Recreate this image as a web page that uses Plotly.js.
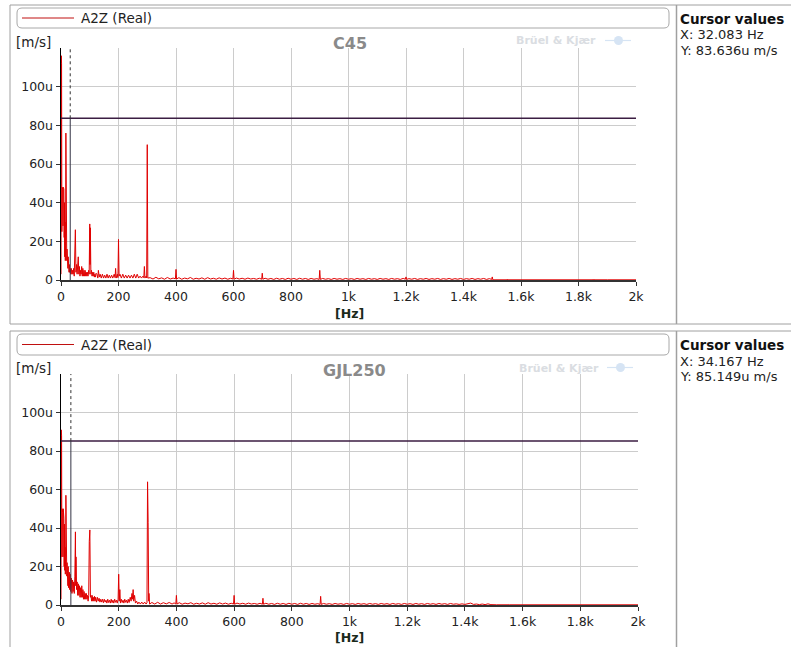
<!DOCTYPE html>
<html>
<head>
<meta charset="utf-8">
<script src="https://cdn.plot.ly/plotly-3.0.1.min.js"></script>
<style>
html,body{margin:0;padding:0;background:#fff;}
#chart{width:791px;height:647px;}
</style>
</head>
<body>
<div id="chart"></div>
<script>
// ---- data (amplitudes in micro m/s) ----
const panelTitles = ["C45", "GJL250"];
const seriesName = "A2Z (Real)";
const yUnit = "[m/s]";
const xUnit = "[Hz]";
const xTickVals = [0, 200, 400, 600, 800, 1000, 1200, 1400, 1600, 1800, 2000];
const xTickText = ["0", "200", "400", "600", "800", "1k", "1.2k", "1.4k", "1.6k", "1.8k", "2k"];
const yTickVals = [0, 20, 40, 60, 80, 100];
const yTickText = ["0", "20u", "40u", "60u", "80u", "100u"];
const cursorX = [32.083, 34.167];
const cursorY = [83.636, 85.149];

const freqC45 = [0,1,2,3,4,5,6,7,8,9,10,11,12,13,14,15,16,17,18,19,20,21,22,23,24,25,26,27,28,29,30,32,34,36,38,40,42,44,46,47,48,50,52,54,56,58,60,62,64,66,68,70,72,74,76,78,80,82,84,86,88,90,92,94,96,98,100,101,102,104,106,108,110,112,114,116,118,120,122,125,128,130,133,136,138,140,144,146,148,152,154,156,160,162,164,168,170,172,176,178,180,185,188,190,192,196,198,200,202,205,208,210,215,218,220,225,228,230,235,238,240,245,248,250,255,258,260,265,268,270,275,278,280,285,288,290,292,296,298,300,302,
310,320,330,340,350,360,370,380,390,398,400,402,410,420,430,440,450,460,470,480,490,500,510,520,530,540,550,560,570,580,590,598,600,602,610,620,630,640,650,660,670,680,690,698,700,702,710,720,730,740,750,760,770,780,790,800,810,820,830,840,850,860,870,880,890,898,900,902,910,920,930,940,950,960,970,980,990,1000,1010,1020,1030,1040,1050,1060,1070,1080,1090,1100,1110,1120,1130,1140,1150,1160,1170,1180,1190,1198,1200,1202,1210,1220,1230,1240,1250,1260,1270,1280,1290,1300,1310,1320,1330,1340,1350,1360,1370,1380,1390,1400,1410,1420,1430,1440,1450,1460,1470,1480,1490,1498,1500,1502,1550,1552,1554,1600,1602,1604,1650,1652,1654,1700,1702,1704,1750,1752,1754,1850,1852,1854,1900,2000];
const ampC45 = [3,116,112,25,48,30,47,28,48,35,47,22,40,12,30,10,18,76,15,48,10,16,8,14,6,12,5,9,4,8,4,6,3,6,3,5,3,6,2,17,3,26,4,8,3,6,12,3,7,2,5,3,7,2,6,2,5,2,5,2,4,2,4,2,5,3,29,8,27,3,5,2,4,2,4,1.5,3,1.5,3.5,3,1,5,1.5,3,1.2,1,3,1.4,1,2.5,1.2,1,3,1.3,1,2.5,1.2,1,2.5,1.3,1,3,1.2,6,1,3,1.2,21,2,3,1.2,1,3,1.2,1,2.5,1.3,1,2.5,1.2,1,2.5,1.2,1,3,1.2,1,3,1.3,1,2,1.1,1,2,1.2,7,1,2,1.1,70,1,
1.2,0.5,1.4,0.6,1.1,0.4,1.3,0.5,1.0,0.6,5.5,0.5,1.2,0.4,1.0,0.6,1.3,0.4,0.9,0.5,1.1,0.4,1.2,0.5,0.9,0.4,1.1,0.5,1.0,0.4,0.9,0.5,5,0.4,1.0,0.5,0.9,0.4,1.0,0.5,0.8,0.4,0.9,0.4,3.5,0.4,0.9,0.4,0.8,0.3,0.9,0.4,0.8,0.3,0.9,0.4,0.8,0.3,0.9,0.4,0.8,0.3,0.8,0.4,0.7,0.3,5,0.3,0.8,0.4,0.7,0.3,0.8,0.4,0.7,0.3,0.8,0.4,0.7,0.3,0.8,0.4,0.7,0.3,0.8,0.4,0.7,0.3,0.8,0.4,0.7,0.3,0.8,0.4,0.7,0.3,0.8,0.4,1.6,0.3,0.7,0.4,0.8,0.3,0.7,0.4,0.8,0.3,0.7,0.4,0.8,0.3,0.7,0.4,0.8,0.3,0.7,0.4,0.8,0.3,0.7,0.4,0.8,0.3,0.7,0.4,0.8,0.3,0.7,0.3,1.6,0.1,0.1,0.5,0.1,0.1,0.4,0.1,0.1,0.4,0.1,0.1,0.4,0.1,0.1,0.4,0.1,0.1,0.5,0.1,0.1,0.1];

const freqGJL = [
  0,1,2,3,4,5,6,7,8,9,10,11,12,13,14,15,16,17,18,19,20,21,22,23,24,25,26,27,28,29,30,
  32,34,36,38,40,42,44,46,48,50,51,52,54,56,58,60,62,64,66,68,70,72,74,76,78,80,82,84,86,88,90,92,94,96,98,
  100,102,104,106,108,110,112,114,116,118,120,123,126,129,132,135,138,141,144,147,150,153,156,159,162,165,168,171,174,177,180,183,186,189,192,195,198,
  200,202,204,206,209,212,215,218,221,224,227,230,233,236,240,243,246,248,250,252,255,258,262,266,270,275,280,285,290,295,298,300,302,304,305,307,
  315,325,335,345,355,365,375,385,392,398,
  400,402,410,420,430,440,450,460,470,480,
  490,500,510,520,530,540,550,560,570,580,
  590,598,600,602,610,620,630,640,650,660,
  670,680,690,698,700,702,710,720,730,740,
  750,760,770,780,790,800,810,820,830,840,
  850,860,870,880,890,898,900,902,910,920,
  930,940,950,960,970,980,990,1000,1010,1020,
  1030,1040,1050,1060,1070,1080,1090,1100,1110,1120,
  1130,1140,1150,1160,1170,1180,1190,1200,1210,1220,
  1230,1240,1250,1260,1270,1280,1290,1300,1310,1320,
  1330,1340,1350,1360,1370,1380,1390,1400,1410,1420,
  1430,1440,1450,1460,1470,1480,1490,1500,1510,1550,
  1552,1554,1600,1602,1604,1700,1702,1704,1800,1802,
  1804,1900,2000];
const ampGJL = [
  3,91,88,25,50,30,48,25,50,30,45,20,42,18,30,16,25,57,18,42,15,22,12,21,10,20,9,18,10,17,8,
  16,7,14,6,13,7,12,6,15,38,10,25,8,12,5,11,5,10,4,9,4,10,4,8,3,7,3,6,3,6,3,5,2,5,33,
  39,4,5,2,5,2,4,2,4.5,2,4,1.5,4,2,3.5,1.5,3,1.5,3,1.2,3,1.5,2.5,1,3,1.3,2.5,1,3,1.2,2.5,1,3,1.4,2.5,1,3,
  16,2,8,1,3,1.3,2.5,1,3,1.4,2.5,1,3,1.3,4,2,6,3,8,2,5,1,2,0.5,1.5,0.5,1.5,0.5,1.5,0.5,1.2,64,43,2,6,0.5,
  1.3,0.5,1.4,0.5,1.2,0.6,1.3,0.5,1.1,0.5,
  5,0.5,1.2,0.4,1.0,0.6,1.2,0.4,0.9,0.5,
  1.1,0.4,1.2,0.5,0.9,0.4,1.1,0.5,1.0,0.4,
  0.9,0.5,5,0.4,1.0,0.5,0.9,0.4,1.0,0.5,
  0.8,0.4,0.9,0.4,3.5,0.4,0.9,0.4,0.8,0.3,
  0.9,0.4,0.8,0.3,0.9,0.4,0.8,0.3,0.9,0.4,
  0.8,0.3,0.8,0.4,0.7,0.3,4.5,0.3,0.8,0.4,
  0.7,0.3,0.8,0.4,0.7,0.3,0.8,0.4,0.7,0.3,
  0.8,0.4,0.7,0.3,0.8,0.4,0.7,0.3,0.8,0.4,
  0.7,0.3,0.8,0.4,0.7,0.3,0.8,0.4,0.7,0.3,
  0.8,0.4,0.7,0.3,0.8,0.4,0.7,0.3,0.8,0.4,
  0.7,0.3,0.8,0.4,0.6,0.3,0.6,0.3,0.5,1.0,
  0.3,0.5,0.2,0.5,0.2,0.6,0.2,0.1,0.1,0.1,
  0.4,0.1,0.1,0.4,0.1,0.1,0.4,0.1,0.1,0.4,
  0.1,0.1,0.1];

// ---- layout helpers (pixel -> paper) ----
const W = 791, H = 647;
const PX = p => p / W;
const PY = p => 1 - p / H;
const FONT = "DejaVu Sans, Verdana, sans-serif";
const red = "#e00000";

function roundRect(x0, y0, x1, y1, r) {
  const a = PX(x0), b = PX(x1), c = PY(y0), d = PY(y1);
  const rx = r / W, ry = r / H;
  return `M${a+rx},${c} L${b-rx},${c} Q${b},${c} ${b},${c-ry} L${b},${d+ry} Q${b},${d} ${b-rx},${d} L${a+rx},${d} Q${a},${d} ${a},${d+ry} L${a},${c-ry} Q${a},${c} ${a+rx},${c} Z`;
}

const traces = [
  {x: freqC45, y: ampC45, xaxis: "x", yaxis: "y", type: "scatter", mode: "lines",
   line: {color: red, width: 1}, hoverinfo: "none", showlegend: false},
  {x: freqGJL, y: ampGJL, xaxis: "x2", yaxis: "y2", type: "scatter", mode: "lines",
   line: {color: red, width: 1}, hoverinfo: "none", showlegend: false}
];

const axX = (domain) => ({
  domain: domain, range: [0, 2000], tickvals: xTickVals, ticktext: xTickText,
  showgrid: true, gridcolor: "#cccccc", gridwidth: 1, zeroline: false,
  showline: true, linecolor: "#333333", linewidth: 1.5,
  ticks: "outside", ticklen: 4, tickcolor: "#333333",
  tickfont: {family: FONT, size: 12.5, color: "#222"}, fixedrange: true
});
const axY = (domain) => ({
  domain: domain, range: [0, 120], tickvals: yTickVals, ticktext: yTickText,
  showgrid: true, gridcolor: "#cccccc", gridwidth: 1, zeroline: false,
  showline: true, linecolor: "#000000", linewidth: 1.5,
  ticks: "outside", ticklen: 4, tickcolor: "#333333",
  tickfont: {family: FONT, size: 12.5, color: "#222"}, fixedrange: true
});

const panels = [
  {top: 5, bottom: 324, legTop: 8, legBot: 28, unitY: 42, titleY: 43, hzY: 313, xax: "x", yax: "y"},
  {top: 331, bottom: 652, legTop: 334, legBot: 355, unitY: 368, titleY: 370, hzY: 637, xax: "x2", yax: "y2"}
];

const shapes = [];
const annotations = [];
panels.forEach((p, i) => {
  // panel frame and cursor-panel divider
  shapes.push({type: "rect", xref: "paper", yref: "paper", x0: PX(10), x1: PX(795), y0: PY(p.top), y1: PY(p.bottom),
               line: {color: "#a0a0a0", width: 1}});
  shapes.push({type: "line", xref: "paper", yref: "paper", x0: PX(676.5), x1: PX(676.5), y0: PY(p.top), y1: PY(p.bottom),
               line: {color: "#a0a0a0", width: 1.5}});
  // legend box
  shapes.push({type: "path", xref: "paper", yref: "paper", path: roundRect(17, p.legTop, 669, p.legBot, 5),
               line: {color: "#a8a8a8", width: 1}});
  shapes.push({type: "line", xref: "paper", yref: "paper", x0: PX(22), x1: PX(74), y0: PY((p.legTop + p.legBot) / 2), y1: PY((p.legTop + p.legBot) / 2),
               line: {color: "#c01010", width: 1}});
  annotations.push({xref: "paper", yref: "paper", x: PX(79), y: PY((p.legTop + p.legBot) / 2), xanchor: "left", yanchor: "middle",
                    text: seriesName, showarrow: false, font: {family: FONT, size: 13.5, color: "#222"}});
  // unit label
  annotations.push({xref: "paper", yref: "paper", x: PX(14), y: PY(p.unitY), xanchor: "left", yanchor: "middle",
                    text: yUnit, showarrow: false, font: {family: FONT, size: 13.5, color: "#222"}});
  // panel title
  annotations.push({xref: "paper", yref: "paper", x: PX(i === 0 ? 350 : 354), y: PY(p.titleY), xanchor: "center", yanchor: "middle",
                    text: "<b>" + panelTitles[i] + "</b>", showarrow: false, font: {family: FONT, size: 16, color: "#8a8a8a"}});
  // watermark
  annotations.push({xref: "paper", yref: "paper", x: PX(i === 0 ? 598 : 601), y: PY(p.titleY - 2), xanchor: "right", yanchor: "middle",
                    text: "<b>Brüel & Kjær</b>", showarrow: false, font: {family: FONT, size: 11, color: "#dadde2"}});
  shapes.push({type: "circle", xref: "paper", yref: "paper", x0: PX(i === 0 ? 614 : 616), x1: PX(i === 0 ? 623 : 625),
               y0: PY(p.titleY - 7), y1: PY(p.titleY + 2), line: {width: 0}, fillcolor: "#d6e4f4"});
  shapes.push({type: "line", xref: "paper", yref: "paper", x0: PX(i === 0 ? 605 : 607), x1: PX(i === 0 ? 631 : 633),
               y0: PY(p.titleY - 2.5), y1: PY(p.titleY - 2.5), line: {width: 1.2, color: "#d6e4f4"}});
  // x unit label
  annotations.push({xref: "paper", yref: "paper", x: PX(349), y: PY(p.hzY), xanchor: "center", yanchor: "middle",
                    text: "<b>" + xUnit + "</b>", showarrow: false, font: {family: FONT, size: 12.5, color: "#1a2a1a"}});
  // cursor values panel
  const cy = p.top + 14;
  annotations.push({xref: "paper", yref: "paper", x: PX(678), y: PY(cy), xanchor: "left", yanchor: "middle",
                    text: "<b>Cursor values</b>", showarrow: false, font: {family: FONT, size: 13.5, color: "#111"}});
  annotations.push({xref: "paper", yref: "paper", x: PX(678), y: PY(cy + 16), xanchor: "left", yanchor: "middle",
                    text: "X: " + cursorX[i].toFixed(3) + " Hz", showarrow: false, font: {family: FONT, size: 13, color: "#222"}});
  annotations.push({xref: "paper", yref: "paper", x: PX(678), y: PY(cy + 31), xanchor: "left", yanchor: "middle",
                    text: "Y: " + cursorY[i].toFixed(3) + "u m/s", showarrow: false, font: {family: FONT, size: 13, color: "#222"}});
  // cursor lines (data coords)
  shapes.push({type: "line", xref: p.xax, yref: p.yax, x0: 0, x1: 2000, y0: cursorY[i], y1: cursorY[i],
               line: {color: "#3b1d42", width: 1.5}});
  shapes.push({type: "line", xref: p.xax, yref: p.yax, x0: cursorX[i], x1: cursorX[i], y0: 0, y1: cursorY[i],
               line: {color: "#333344", width: 1}});
  shapes.push({type: "line", xref: p.xax, yref: p.yax, x0: cursorX[i], x1: cursorX[i], y0: cursorY[i], y1: 120,
               line: {color: "#333333", width: 1, dash: "dot"}});
});

const layout = {
  width: W, height: H,
  margin: {l: 0, r: 0, t: 0, b: 0},
  paper_bgcolor: "#ffffff", plot_bgcolor: "#ffffff",
  showlegend: false,
  xaxis: Object.assign(axX([PX(61), PX(636)]), {anchor: "y"}),
  yaxis: Object.assign(axY([PY(280), PY(48)]), {anchor: "x"}),
  xaxis2: Object.assign(axX([PX(61), PX(638)]), {anchor: "y2"}),
  yaxis2: Object.assign(axY([PY(605), PY(374)]), {anchor: "x2"}),
  shapes: shapes,
  annotations: annotations
};

Plotly.newPlot("chart", traces, layout, {staticPlot: true, displayModeBar: false});
</script>
</body>
</html>
